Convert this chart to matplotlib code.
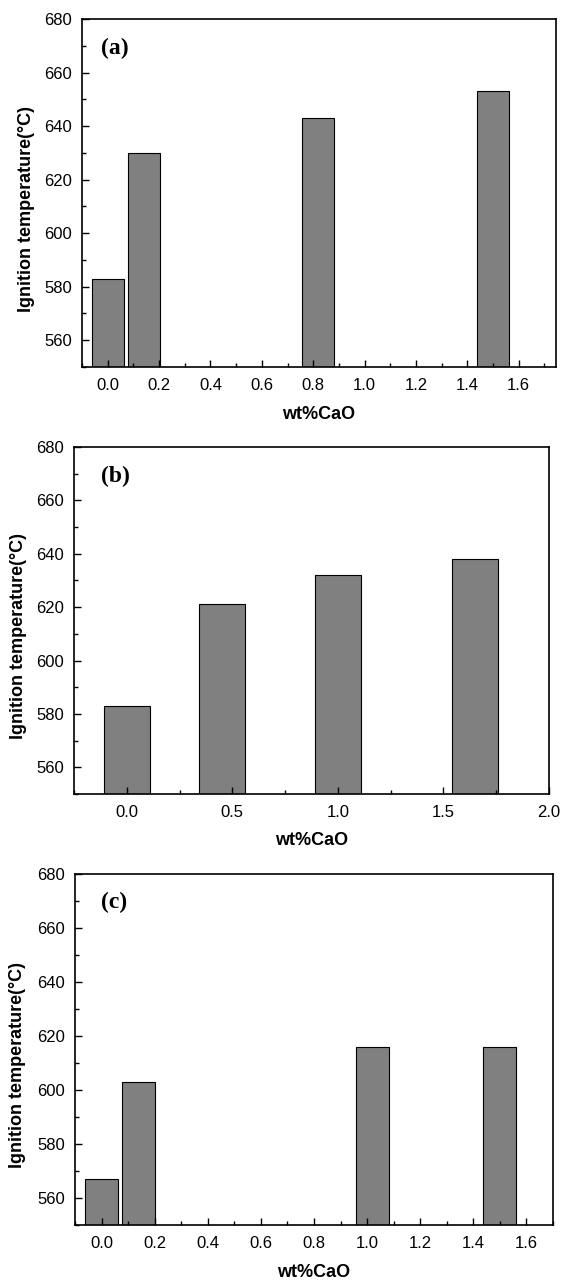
import matplotlib
matplotlib.use("Agg")
import matplotlib.pyplot as plt
from matplotlib.ticker import MultipleLocator

# data
a_x = [0.0, 0.14, 0.82, 1.5]
a_temp = [583, 630, 643, 653]

b_x = [0.0, 0.45, 1.0, 1.65]
b_temp = [583, 621, 632, 638]

c_x = [0.0, 0.14, 1.02, 1.5]
c_temp = [567, 603, 616, 616]

plt.rcParams['font.family'] = ['Liberation Sans', 'DejaVu Sans']

W, H = 562, 1282
fig = plt.figure(figsize=(W / 100, H / 100), dpi=100)


def rect(left, right, top, bottom):
    # pixel box -> figure fraction
    return [left / W, 1 - bottom / H, (right - left) / W, (bottom - top) / H]


def panel(box, xs, ys, width, xlim, major, minor, tag, tagpos, ylab_x, xlab_y):
    ax = fig.add_axes(box)
    ax.bar(xs, ys, width=width, bottom=0, color='#808080',
           edgecolor='black', linewidth=0.8)
    ax.set_xlim(*xlim)
    ax.set_ylim(550, 680)
    ax.xaxis.set_major_locator(MultipleLocator(major))
    ax.xaxis.set_minor_locator(MultipleLocator(minor))
    ax.yaxis.set_major_locator(MultipleLocator(20))
    ax.yaxis.set_minor_locator(MultipleLocator(10))
    ax.xaxis.set_major_formatter(plt.FormatStrFormatter('%.1f'))
    ax.tick_params(which='both', direction='in', width=1.0, labelsize=12)
    ax.tick_params(which='major', length=5)
    ax.tick_params(which='minor', length=3)
    ax.tick_params(axis='y', pad=7)
    ax.tick_params(axis='x', pad=8)
    for s in ax.spines.values():
        s.set_linewidth(1.2)
    ax.set_ylabel('Ignition temperature(°C)', fontsize=13, fontweight='bold')
    ax.set_xlabel('wt%CaO', fontsize=13, fontweight='bold')
    ax.yaxis.set_label_coords(ylab_x, 0.455)
    ax.xaxis.set_label_coords(0.5, xlab_y)
    ax.xaxis.label.set_va('center')
    ax.yaxis.label.set_va('center')
    ax.text(tagpos[0], tagpos[1], tag, transform=ax.transAxes,
            fontsize=17, fontweight='bold', va='center', ha='left',
            family=['Liberation Serif', 'DejaVu Serif'])
    return ax


panel(rect(82, 556, 19, 367), a_x, a_temp, 0.125, (-0.1, 1.745), 0.2, 0.1,
      '(a)', (0.04, 0.914), -0.118, -0.137)
panel(rect(74, 549, 447, 794), b_x, b_temp, 0.22, (-0.25, 2.0), 0.5, 0.25,
      '(b)', (0.057, 0.914), -0.116, -0.135)
panel(rect(75, 553, 874, 1225), c_x, c_temp, 0.125, (-0.1, 1.7), 0.2, 0.1,
      '(c)', (0.054, 0.919), -0.121, -0.135)

fig.savefig('out.png', dpi=100)
